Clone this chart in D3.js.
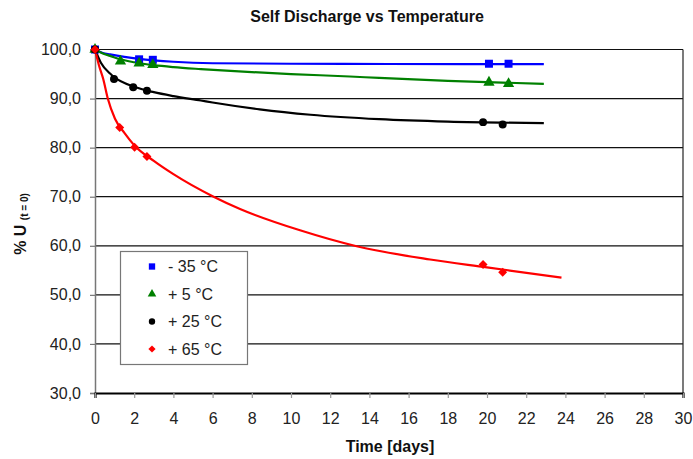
<!DOCTYPE html>
<html><head><meta charset="utf-8">
<script src="https://cdn.jsdelivr.net/npm/d3@7"></script>
<style>body{margin:0;background:#fff}svg{display:block;font-family:"Liberation Sans",Arial,sans-serif}</style>
</head><body>
<svg id="c" width="693" height="459"></svg>
<script>
const seriesNames = ["- 35 °C", "+ 5 °C", "+ 25 °C", "+ 65 °C"];
const seriesColors = ["#0000ff", "#008000", "#000000", "#ff0000"];
const seriesShapes = ["square", "triangle", "circle", "diamond"];

// measured points [day, %U]
const pointsM35 = [[0,100],[2.25,98.0],[2.95,97.9],[20.1,97.1],[21.1,97.1]];
const points5   = [[0,100],[1.3,97.6],[2.25,97.2],[2.95,96.9],[20.1,93.3],[21.1,93.0]];
const points25  = [[0,100],[0.97,94.0],[1.95,92.3],[2.65,91.6],[19.8,85.2],[20.8,84.7]];
const points65  = [[0,100],[1.26,84.1],[2.02,80.1],[2.65,78.2],[19.8,56.2],[20.8,54.6]];

// trend lines [day, %U]
const trendM35 = [[0,100],[0.4,99.3],[0.77,99.0],[1.5,98.5],[2.25,98.1],[3,97.8],[4,97.5],[6,97.2],[10,97.1],[15,97.05],[22.9,97.0]];
const trend5   = [[0,100],[0.4,99.2],[0.77,98.7],[1.3,98.0],[2,97.4],[3,96.8],[4,96.4],[5.4,96.0],[8,95.4],[10,95.0],[13,94.5],[14.5,94.2],[18,93.6],[22.9,93.0]];
const trend25  = [[0,100],[0.3,97.3],[0.77,95.1],[1,94.3],[2,92.4],[3,91.3],[4,90.5],[5.4,89.6],[6,89.2],[8.4,87.8],[11,86.7],[14.5,85.8],[18,85.3],[22.9,85.0]];
const trend65  = [[0,100],[0.2,96.8],[0.42,94.0],[0.66,89.9],[1.02,85.9],[1.5,83.0],[2,80.5],[3,77.3],[4,74.6],[6,70.1],[7.4,67.5],[10.5,63.1],[13.35,59.9],[17.1,57.2],[20,55.6],[23.8,53.5]];

const xTicks = d3.range(0, 31, 2);
const yTicks = d3.range(30, 101, 10);

const allPoints = [pointsM35, points5, points25, points65];
const allTrends = [trendM35, trend5, trend25, trend65];

const svg = d3.select("#c");
const x = d3.scaleLinear().domain([0, 30]).range([95, 683]);
const y = d3.scaleLinear().domain([30, 100]).range([393, 49.5]);

// title
svg.append("text").attr("x", 367).attr("y", 22).attr("text-anchor", "middle")
  .attr("font-size", 16).attr("font-weight", "bold").attr("fill", "#111")
  .text("Self Discharge vs Temperature");

// grid lines
svg.append("g").selectAll("line").data(yTicks.filter(d => d > 30)).join("line")
  .attr("x1", x(0)).attr("x2", x(30)).attr("y1", d => y(d)).attr("y2", d => y(d))
  .attr("stroke", "#111").attr("stroke-width", 1.2);
// right border
svg.append("line").attr("x1", x(30)).attr("x2", x(30)).attr("y1", y(100)).attr("y2", y(30))
  .attr("stroke", "#222").attr("stroke-width", 1.2);

// y axis
const yAxis = svg.append("g").attr("transform", `translate(${x(0)},0)`)
  .call(d3.axisLeft(y).tickValues(yTicks).tickSize(5).tickPadding(9).tickFormat(d => d3.format(".1f")(d).replace(".", ",")));
yAxis.select(".domain").attr("stroke", "#777").attr("stroke-width", 1.5);
yAxis.selectAll(".tick line").attr("stroke", "#777").attr("stroke-width", 1.2);
yAxis.selectAll(".tick text").attr("font-size", 16).attr("fill", "#222").attr("font-family", "Liberation Sans, Arial, sans-serif");

// x axis
const xAxis = svg.append("g").attr("transform", `translate(0,${y(30)})`)
  .call(d3.axisBottom(x).tickValues(xTicks).tickSize(5).tickPadding(15));
xAxis.select(".domain").attr("stroke", "#000").attr("stroke-width", 2.2);
xAxis.selectAll(".tick line").attr("stroke", "#999").attr("stroke-width", 1.2);
xAxis.selectAll(".tick text").attr("font-size", 16).attr("fill", "#222").attr("font-family", "Liberation Sans, Arial, sans-serif");

// axis titles
svg.append("text").attr("x", 390).attr("y", 452).attr("text-anchor", "middle")
  .attr("font-size", 16).attr("font-weight", "bold").attr("fill", "#111").text("Time [days]");
const yt = svg.append("text").attr("transform", "translate(26,224) rotate(-90)")
  .attr("text-anchor", "middle").attr("font-weight", "bold").attr("fill", "#111");
yt.append("tspan").attr("font-size", 16).text("% U ");
yt.append("tspan").attr("font-size", 10).attr("dy", 2).text("(t = 0)");

// trend lines
const line = d3.line().x(d => x(d[0])).y(d => y(d[1])).curve(d3.curveMonotoneX);
svg.append("g").selectAll("path").data(allTrends).join("path")
  .attr("d", line).attr("fill", "none")
  .attr("stroke", (d, i) => seriesColors[i]).attr("stroke-width", 2.2);

// markers
const symType = {square: d3.symbolSquare, triangle: d3.symbolTriangle, circle: d3.symbolCircle, diamond: d3.symbolSquare};
const symSize = {square: 64, triangle: 55, circle: 50, diamond: 40};
const symRot = {square: 0, triangle: 0, circle: 0, diamond: 45};
allPoints.forEach((pts, i) => {
  const sh = seriesShapes[i];
  svg.append("g").selectAll("path").data(pts).join("path")
    .attr("transform", d => `translate(${x(d[0])},${y(d[1])}) rotate(${symRot[sh]})`)
    .attr("d", d3.symbol(symType[sh], symSize[sh])())
    .attr("fill", seriesColors[i]);
});

// legend
const lg = svg.append("g");
lg.append("rect").attr("x", 120.5).attr("y", 251.5).attr("width", 127).attr("height", 113)
  .attr("fill", "#fff").attr("stroke", "#777").attr("stroke-width", 1.2);
const legY = [266.5, 294, 321.5, 349];
const legSize = {square: 40, triangle: 32, circle: 32, diamond: 26};
seriesNames.forEach((n, i) => {
  const sh = seriesShapes[i];
  lg.append("path").attr("transform", `translate(152,${legY[i]}) rotate(${symRot[sh]})`)
    .attr("d", d3.symbol(symType[sh], legSize[sh])()).attr("fill", seriesColors[i]);
  lg.append("text").attr("x", 168).attr("y", legY[i]).attr("dy", "0.36em")
    .attr("font-size", 16).attr("fill", "#222").text(n);
});
</script>
</body></html>
